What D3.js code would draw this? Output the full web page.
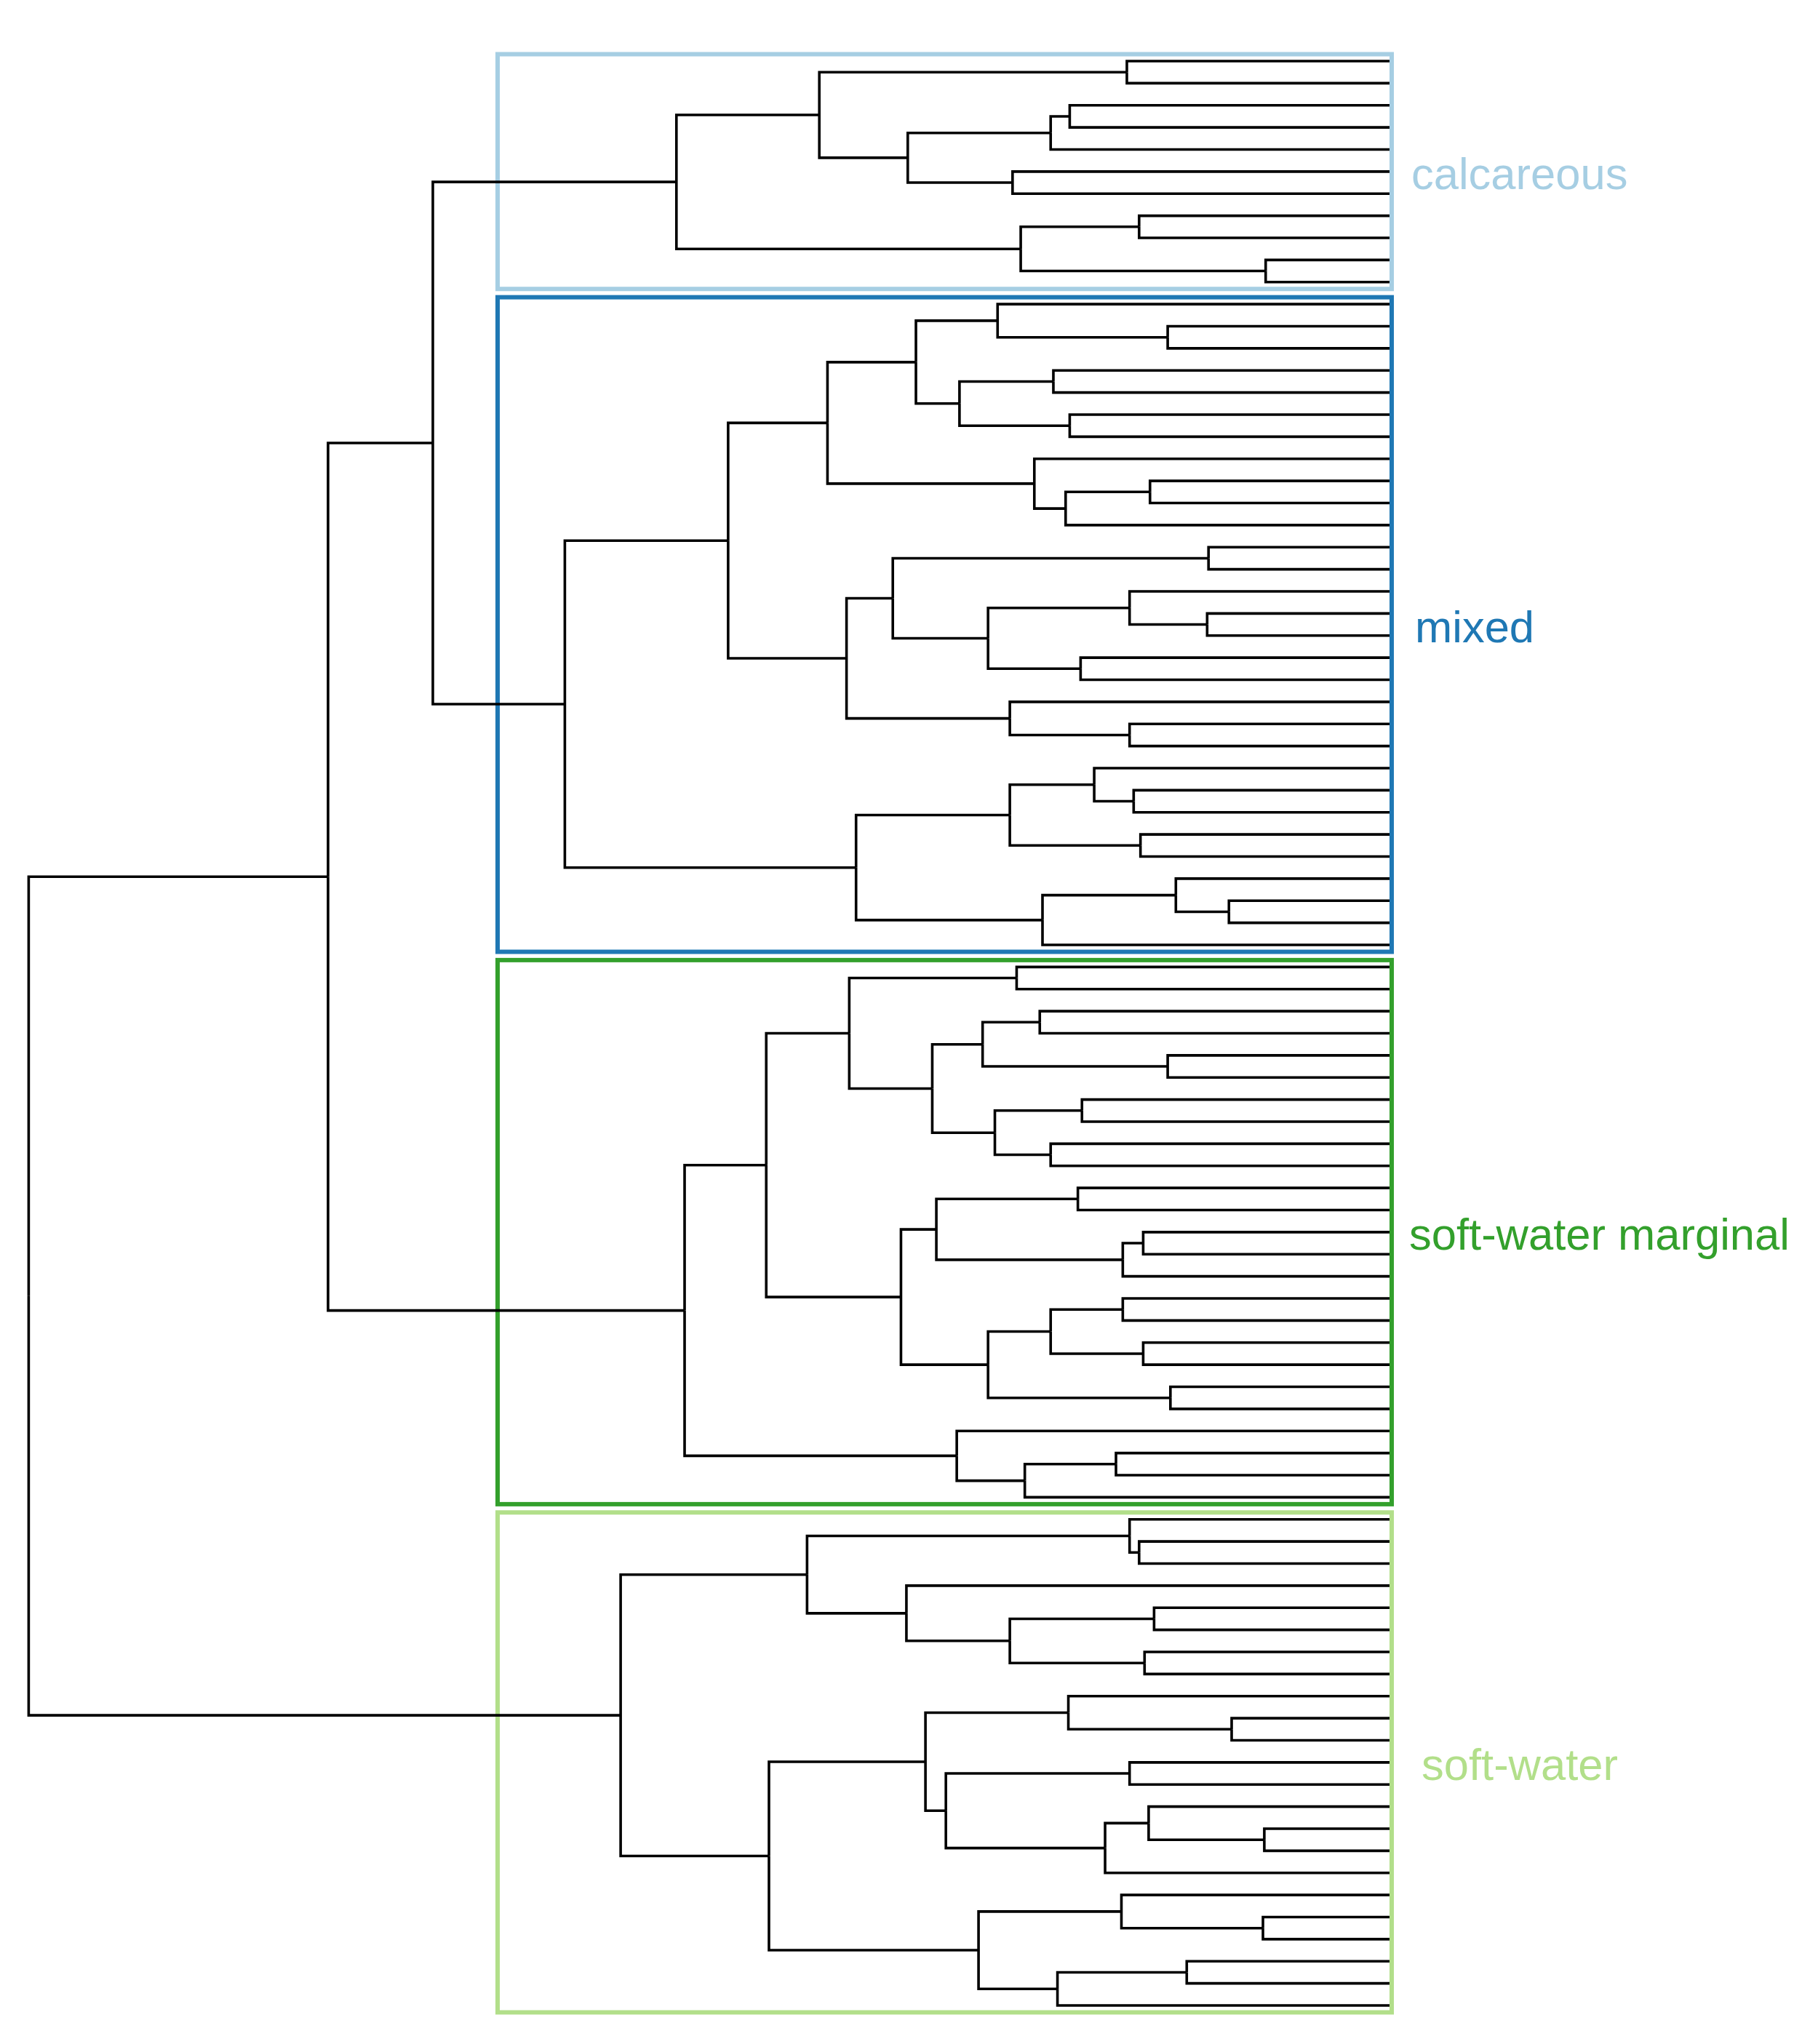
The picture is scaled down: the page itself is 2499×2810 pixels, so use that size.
<!DOCTYPE html>
<html><head><meta charset="utf-8">
<script src="https://cdn.jsdelivr.net/npm/d3@7/dist/d3.min.js"></script>
<style>html,body{margin:0;padding:0;background:#fff;} svg{display:block;}</style>
</head><body>
<script>
// ---- data ----
const groups = ["calcareous", "mixed", "soft-water marginal", "soft-water"];
const groupPrefix = ["c", "m", "g", "s"];
const groupSizes = [11, 30, 25, 23];

// merges: [id, upper child, lower child, height (relative dissimilarity)]
const calcareousMerges = [
  ["cA","c1","c2",0.193], ["cB","c3","c4",0.235], ["cC","cB","c5",0.249],
  ["cD","c6","c7",0.277], ["cE","cC","cD",0.354], ["cF","cA","cE",0.419],
  ["cG","c8","c9",0.184], ["cH","c10","c11",0.091], ["cI","cG","cH",0.271],
  ["cRoot","cF","cI",0.524]
];
const mixedMerges = [
  ["m_1","m2","m3",0.163], ["m_2","m1","m_1",0.288], ["m_3","m4","m5",0.247],
  ["m_4","m6","m7",0.235], ["m_5","m_3","m_4",0.316], ["m_6","m_2","m_5",0.348],
  ["m_7","m9","m10",0.176], ["m_8","m_7","m11",0.238], ["m_9","m8","m_8",0.261],
  ["m_10","m_6","m_9",0.413],
  ["m_13","m12","m13",0.133], ["m_14","m15","m16",0.134], ["m_15","m14","m_14",0.191],
  ["m_16","m17","m18",0.227], ["m_17","m_15","m_16",0.295], ["m_18","m_13","m_17",0.365],
  ["m_19","m20","m21",0.191], ["m_20","m19","m_19",0.279], ["m_21","m_18","m_20",0.399],
  ["m_11","m_10","m_21",0.486],
  ["m_22","m23","m24",0.188], ["m_23","m22","m_22",0.217], ["m_24","m25","m26",0.183],
  ["m_25","m_23","m_24",0.279], ["m_26","m28","m29",0.118], ["m_27","m27","m_26",0.157],
  ["m_28","m_27","m30",0.255], ["m_29","m_25","m_28",0.392],
  ["mRoot","m_11","m_29",0.606]
];
const marginalMerges = [
  ["g_1","g1","g2",0.274], ["g_2","g3","g4",0.257], ["g_3","g5","g6",0.163],
  ["g_4","g_2","g_3",0.299], ["g_5","g7","g8",0.226], ["g_6","g9","g10",0.249],
  ["g_7","g_5","g_6",0.290], ["g_8","g_4","g_7",0.336], ["g_9","g_1","g_8",0.397],
  ["g_10","g11","g12",0.229], ["g_11","g13","g14",0.181], ["g_12","g_11","g15",0.196],
  ["g_13","g_10","g_12",0.333], ["g_14","g16","g17",0.196], ["g_15","g18","g19",0.181],
  ["g_16","g_14","g_15",0.249], ["g_17","g20","g21",0.161], ["g_18","g_16","g_17",0.295],
  ["g_19","g_13","g_18",0.359], ["g_20","g_9","g_19",0.458],
  ["g_21","g23","g24",0.201], ["g_22","g_21","g25",0.268], ["g_23","g22","g_22",0.318],
  ["gRoot","g_20","g_23",0.518]
];
const softMerges = [
  ["s_1","s2","s3",0.184], ["s_2","s1","s_1",0.191], ["s_3","s5","s6",0.173],
  ["s_4","s7","s8",0.180], ["s_5","s_3","s_4",0.279], ["s_6","s4","s_5",0.355],
  ["s_7","s_2","s_6",0.428],
  ["s_8","s10","s11",0.116], ["s_9","s9","s_8",0.236], ["s_10","s12","s13",0.191],
  ["s_11","s15","s16",0.092], ["s_12","s14","s_11",0.177], ["s_13","s_12","s17",0.209],
  ["s_14","s_10","s_13",0.326], ["s_15","s_9","s_14",0.341],
  ["s_17","s19","s20",0.093], ["s_18","s18","s_17",0.197], ["s_19","s21","s22",0.149],
  ["s_20","s_19","s23",0.244], ["s_21","s_18","s_20",0.302], ["s_22","s_15","s_21",0.456],
  ["sRoot","s_7","s_22",0.565]
];
const topMerges = [
  ["t1","cRoot","mRoot",0.703],
  ["t2","t1","gRoot",0.780],
  ["root","t2","sRoot",1.000]
];

// ---- style / layout ----
const W = 2499, H = 2810;
const groupColors = ["#a6cee3", "#1f78b4", "#33a02c", "#b2df8a"];
const labelDx = [27, 32, 24, 41];
const leafX = 1910, rootX = 39.4;
const leafTop = 84, leafBottom = 2757;
const boxLeft = 684, boxRight = 1913, boxPad = 9.5;

// build tree nodes
const nodes = {};
groups.forEach((g, gi) => {
  for (let i = 1; i <= groupSizes[gi]; i++) {
    const id = groupPrefix[gi] + i;
    nodes[id] = {id, group: gi, height: 0};
  }
});
[calcareousMerges, mixedMerges, marginalMerges, softMerges, topMerges].forEach(list => {
  list.forEach(([id, a, b, h]) => {
    nodes[id] = {id, height: h, children: [nodes[a], nodes[b]]};
  });
});

const root = d3.hierarchy(nodes["root"]);
const leaves = root.leaves();

const x = d3.scaleLinear().domain([0, 1]).range([leafX, rootX]);
const y = d3.scalePoint().domain(leaves.map(d => d.data.id)).range([leafTop, leafBottom]);

root.eachAfter(n => {
  n.px = x(n.data.height);
  if (n.children) {
    n.py = (n.children[0].py + n.children[n.children.length - 1].py) / 2;
  } else {
    n.py = y(n.data.id);
  }
});

const svg = d3.select("body").append("svg").attr("width", W).attr("height", H);
svg.append("rect").attr("width", W).attr("height", H).attr("fill", "#fff");

// group boxes
const boxG = svg.append("g");
groups.forEach((g, gi) => {
  const gl = leaves.filter(d => d.data.group === gi);
  const y0 = d3.min(gl, d => d.py) - boxPad;
  const y1 = d3.max(gl, d => d.py) + boxPad;
  boxG.append("rect")
    .attr("x", boxLeft).attr("y", y0)
    .attr("width", boxRight - boxLeft).attr("height", y1 - y0)
    .attr("fill", "none").attr("stroke", groupColors[gi]).attr("stroke-width", 6);
  boxG.append("text")
    .attr("x", boxRight + labelDx[gi]).attr("y", (y0 + y1) / 2 + 24)
    .attr("font-family", "'Liberation Sans', Arial, sans-serif")
    .attr("font-size", 61.5)
    .attr("fill", groupColors[gi])
    .text(g);
});

// dendrogram links (elbow)
svg.append("g")
  .attr("fill", "none").attr("stroke", "#000").attr("stroke-width", 3.6)
  .selectAll("path")
  .data(root.links())
  .join("path")
  .attr("d", l => `M${l.target.px},${l.target.py}H${l.source.px}V${l.source.py}`);
</script>
</body></html>
